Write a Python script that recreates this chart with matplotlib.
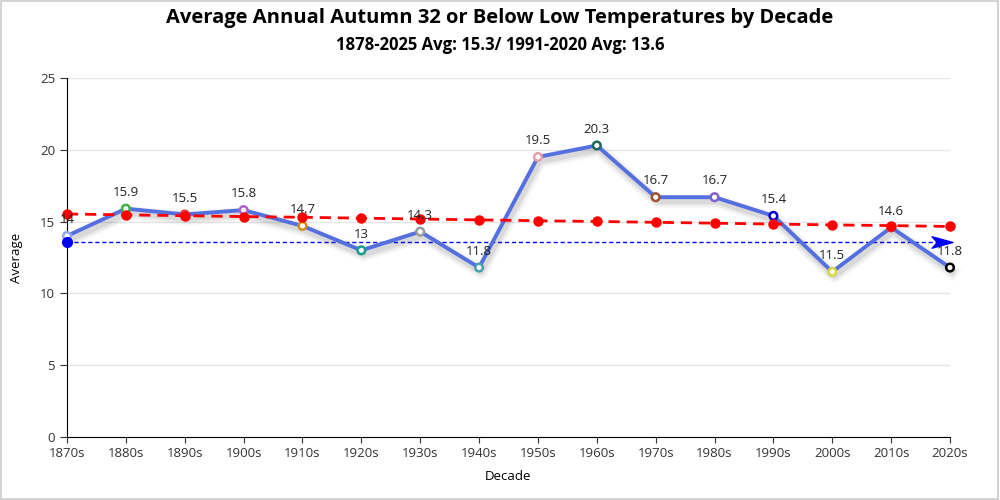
import numpy as np
import matplotlib
matplotlib.use("Agg")
import matplotlib.pyplot as plt
import matplotlib.patheffects as pe
from matplotlib.path import Path

plt.rcParams['font.family'] = ['Open Sans', 'DejaVu Sans']

# data
decades = ['1870s', '1880s', '1890s', '1900s', '1910s', '1920s', '1930s', '1940s',
           '1950s', '1960s', '1970s', '1980s', '1990s', '2000s', '2010s', '2020s']
averages = [14, 15.9, 15.5, 15.8, 14.7, 13, 14.3, 11.8,
            19.5, 20.3, 16.7, 16.7, 15.4, 11.5, 14.6, 11.8]
trend = [15.53, 15.47, 15.41, 15.35, 15.30, 15.24, 15.18, 15.12,
         15.06, 15.01, 14.95, 14.89, 14.83, 14.77, 14.72, 14.66]
normal_avg = 13.6
marker_colors = ['#8fa8f0', '#3cb043', '#e04040', '#b060d0', '#d98a1c', '#1a9c8c',
                 '#9a9a9a', '#4a9cb0', '#e3a0a8', '#1a6b5a', '#a0522d', '#8060d0',
                 '#0000cc', '#d6d640', '#e04040', '#000000']

x = np.arange(len(decades))

fig = plt.figure(figsize=(10, 5), dpi=100)
ax = fig.add_axes([0.067, 0.126, 0.883, 0.718])

# light frame round the figure
fig.patches.append(plt.Rectangle((0.001, 0.002), 0.997, 0.996, transform=fig.transFigure,
                                 fill=False, edgecolor='#cccccc', linewidth=1.2))

# main series with a soft shadow
shadow = [pe.SimpleLineShadow(offset=(1.5, -3), shadow_color='k', alpha=0.03, linewidth=10),
          pe.SimpleLineShadow(offset=(1.5, -3), shadow_color='k', alpha=0.05, linewidth=7),
          pe.SimpleLineShadow(offset=(1.5, -3), shadow_color='k', alpha=0.07, linewidth=4),
          pe.Normal()]
ax.plot(x, averages, color='#5470e0', linewidth=2.8, zorder=3, path_effects=shadow,
        clip_on=False)
ax.scatter(x, averages, s=30, facecolor='white', edgecolors=marker_colors,
           linewidths=1.8, zorder=4, clip_on=False)

# trend line
ax.plot(x, trend, color='red', linestyle=(0, (4, 2.5)), linewidth=2, marker='o',
        markersize=6.5, zorder=5, clip_on=False)

# 1991-2020 normal line with arrow
ax.plot([x[0], x[-1]], [normal_avg, normal_avg], color='blue', linestyle=(0, (3, 2)),
        linewidth=1, zorder=2, clip_on=False)
ax.plot(x[0], normal_avg, 'o', color='blue', markersize=7, zorder=6, clip_on=False)
arrow = Path([(-1, 0.55), (1, 0), (-1, -0.55), (-0.5, 0), (-1, 0.55)],
             [Path.MOVETO, Path.LINETO, Path.LINETO, Path.LINETO, Path.CLOSEPOLY])
ax.plot(x[-1] - 0.14, normal_avg, marker=arrow, color='blue', markersize=15, zorder=6,
        clip_on=False)

# data labels
for xi, v in zip(x, averages):
    ax.annotate(f'{v:g}', (xi, v), xytext=(0, 7), textcoords='offset points',
                ha='center', va='bottom', fontsize=9.5, color='#222222', zorder=7)

ax.set_xlim(0, len(decades) - 1)
ax.set_ylim(0, 25)
ax.set_xticks(x)
ax.set_xticklabels(decades)
ax.set_yticks([0, 5, 10, 15, 20, 25])
ax.tick_params(labelsize=9.5, colors='#333333')
ax.tick_params(axis='y', length=5)
ax.tick_params(axis='x', length=4)
ax.grid(axis='y', color='#e6e6e6', linewidth=1)
ax.set_axisbelow(True)
for s in ['top', 'right']:
    ax.spines[s].set_visible(False)
ax.spines['left'].set_color('black')
ax.spines['bottom'].set_color('black')
ax.set_xlabel('Decade', fontsize=9.5, labelpad=7)
ax.set_ylabel('Average', fontsize=9.5, labelpad=12)

fig.text(0.5, 0.965, 'Average Annual Autumn 32 or Below Low Temperatures by Decade',
         ha='center', va='center', fontsize=14.5, fontweight='bold')
fig.text(0.5, 0.91, '1878-2025 Avg: 15.3/ 1991-2020 Avg: 13.6',
         ha='center', va='center', fontsize=12, fontweight='bold')

fig.savefig('out.png', dpi=100)
